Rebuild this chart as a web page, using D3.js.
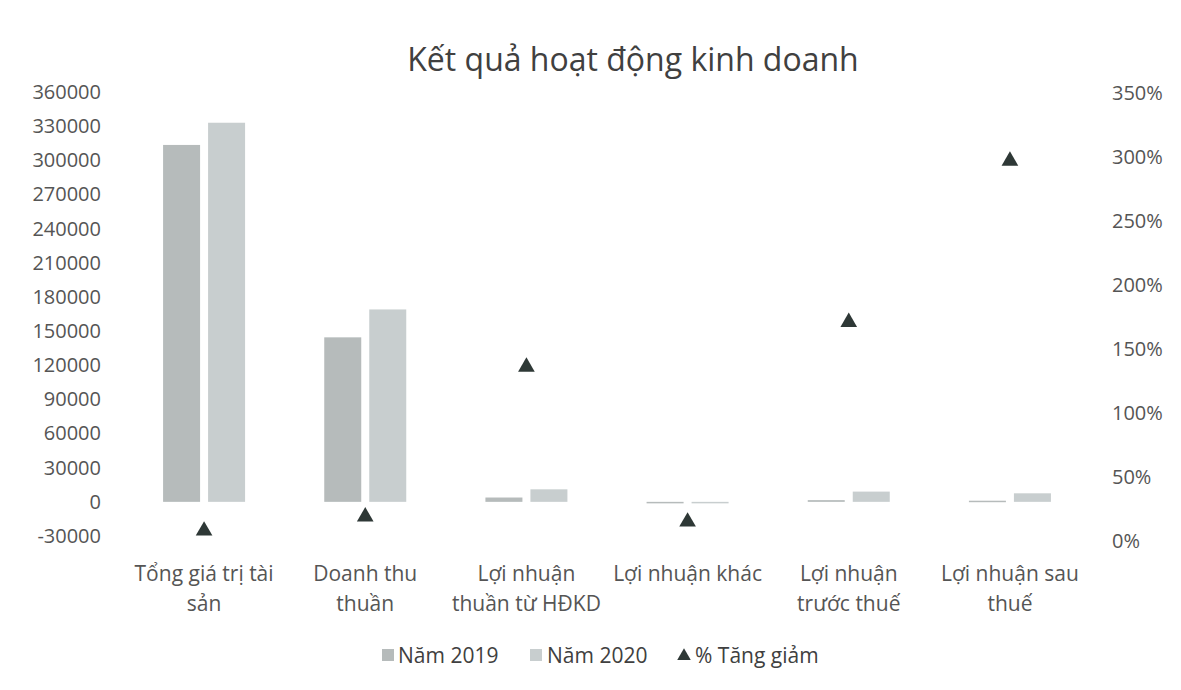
<!DOCTYPE html>
<html><head><meta charset="utf-8">
<script src="https://cdn.jsdelivr.net/npm/d3@7"></script>
<style>body{margin:0;background:#fff}svg{display:block}text{font-family:"Open Sans",sans-serif;fill:#555}</style>
</head><body>
<svg id="c" width="1181" height="690"></svg>
<script>
const categories = [["Tổng giá trị tài","sản"],["Doanh thu","thuần"],["Lợi nhuận","thuần từ HĐKD"],["Lợi nhuận khác"],["Lợi nhuận","trước thuế"],["Lợi nhuận sau","thuế"]];
const values2019 = [313500, 144500, 3800, -500, 1500, 1000];
const values2020 = [333000, 169000, 11000, -1000, 9000, 7500];
const pctChange = [8, 19, 136, 15, 171, 297];
const leftTicks = [-30000,0,30000,60000,90000,120000,150000,180000,210000,240000,270000,300000,330000,360000];
const rightTicks = [0,50,100,150,200,250,300,350];
const seriesNames = ["Năm 2019","Năm 2020","% Tăng giảm"];
const colors = ["#b6bbbb","#c8cecf","#2e3836"];

const svg = d3.select("#c");
const x = d3.scaleBand().domain(d3.range(categories.length)).range([123.5,1090.5]);
const yL = d3.scaleLinear().domain([-30000,360000]).range([536,92]);
const yR = d3.scaleLinear().domain([0,350]).range([541,93]);
const bw = 37, gap = 8;

// title
svg.append("text").attr("x",633).attr("y",71).attr("text-anchor","middle")
  .style("font-size","32px").style("fill","#404040").text("Kết quả hoạt động kinh doanh");

// left axis
const gl = svg.append("g").attr("transform","translate(101,0)")
  .call(d3.axisLeft(yL).tickValues(leftTicks).tickSize(0).tickPadding(0).tickFormat(d=>String(d)));
gl.select(".domain").remove();
gl.selectAll("text").style("font-size","20px").style("font-family","'Open Sans',sans-serif").attr("fill","#555");

// right axis
const gr = svg.append("g").attr("transform","translate(1112,0)")
  .call(d3.axisRight(yR).tickValues(rightTicks).tickSize(0).tickPadding(0).tickFormat(d=>d+"%"));
gr.select(".domain").remove();
gr.selectAll("text").style("font-size","20px").style("font-family","'Open Sans',sans-serif").attr("fill","#555");

const cx = i => x(i) + x.bandwidth()/2;

// bars
[values2019, values2020].forEach((vals, s) => {
  svg.append("g").selectAll("rect").data(vals).join("rect")
    .attr("x",(d,i)=> s===0 ? cx(i)-gap/2-bw : cx(i)+gap/2)
    .attr("width",bw)
    .attr("y",d=>yL(Math.max(0,d)))
    .attr("height",d=>Math.max(1.5,Math.abs(yL(d)-yL(0))))
    .attr("fill",colors[s]);
});

// triangles
const tri = d3.symbol().type(d3.symbolTriangle).size(120);
svg.append("g").selectAll("path").data(pctChange).join("path")
  .attr("d",tri).attr("transform",(d,i)=>`translate(${cx(i)},${yR(d)})`).attr("fill",colors[2]);

// category labels
const lab = svg.append("g").selectAll("text").data(categories).join("text")
  .attr("text-anchor","middle").style("font-size","21px").attr("x",(d,i)=>cx(i));
lab.each(function(d,i){
  d3.select(this).selectAll("tspan").data(d).join("tspan")
    .attr("x",cx(i)).attr("y",(t,j)=>581+j*30).text(t=>t);
});

// legend
const leg = svg.append("g");
const legX = [382, 530, 677];
leg.append("rect").attr("x",legX[0]).attr("y",649).attr("width",12).attr("height",12).attr("fill",colors[0]);
leg.append("rect").attr("x",legX[1]).attr("y",649).attr("width",12).attr("height",12).attr("fill",colors[1]);
leg.append("path").attr("d",d3.symbol().type(d3.symbolTriangle).size(80)).attr("transform",`translate(${legX[2]+7},656)`).attr("fill",colors[2]);
const legTx = [398, 547, 695];
seriesNames.forEach((n,i)=>{
  leg.append("text").attr("x",legTx[i]).attr("y",663).style("font-size","21px").style("fill","#404040").text(n);
});
</script>
</body></html>
